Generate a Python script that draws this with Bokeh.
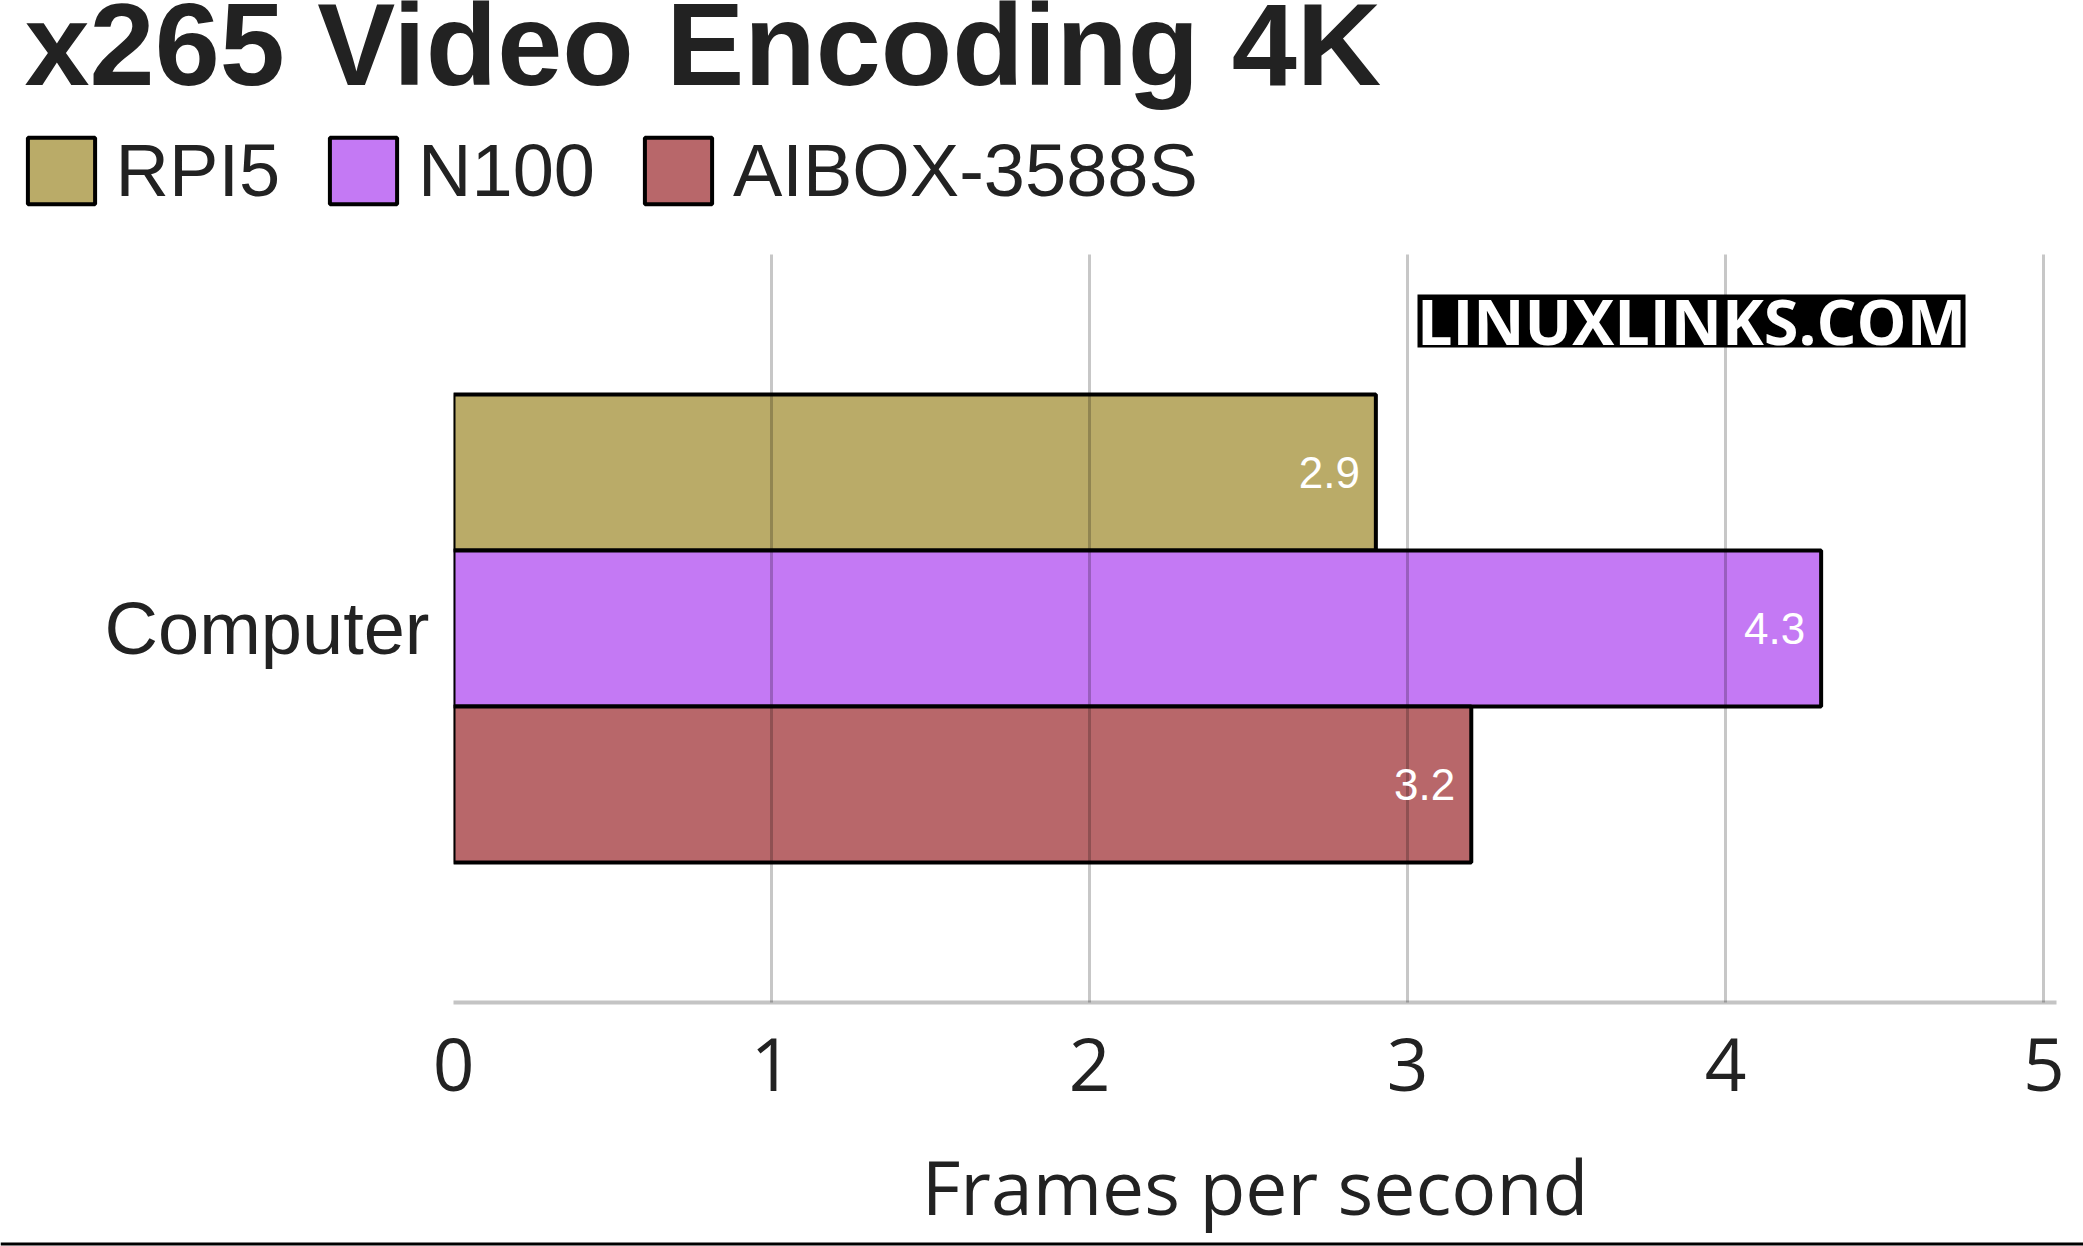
from bokeh.plotting import figure
from bokeh.layouts import column
from bokeh.models import (ColumnDataSource, FactorRange, Range1d, FixedTicker, Legend,
                          LegendItem, Label, LabelSet, BoxAnnotation)
from bokeh.transform import dodge
from bokeh.core.properties import value
from bokeh.embed import file_html
from bokeh.resources import INLINE

# ---- data ----
title = "x265 Video Encoding 4K"
category = ["Computer"]
devices = ["RPI5", "N100", "AIBOX-3588S"]
fps = [2.9, 4.3, 3.2]
colors = ["#BAAB68", "#C479F4", "#B8676A"]
x_ticks = [0, 1, 2, 3, 4, 5]
x_label = "Frames per second"
watermark = "LINUXLINKS.COM"

BAR_H = 0.2086
offsets = [BAR_H, 0.0, -BAR_H]
TXT = "#222222"
X_END = 5.04
W = 2083
HEAD_H = 254
FRAME_H = 748
BOTTOM_B = 136
FOOT_H = 1246 - HEAD_H - FRAME_H - BOTTOM_B


def no_align(fig):
    try:
        fig.frame_align = False
    except Exception:
        pass


sources = [ColumnDataSource(dict(cat=category, value=[v], label=[f"{v:.1f}"])) for v in fps]

# ---------------- header: title + legend ----------------
h = figure(width=W, height=HEAD_H, y_range=FactorRange(factors=category), x_range=Range1d(0, X_END),
           min_border=0, x_axis_location=None, y_axis_location=None,
           output_backend="svg", toolbar_location=None, outline_line_color=None)
no_align(h)
h.grid.visible = False
items = []
for dev, src, col, off in zip(devices, sources, colors, offsets):
    r = h.hbar(y=dodge("cat", off, range=h.y_range), right="value", left=0, height=BAR_H,
               source=src, fill_color=col, line_color="black", line_width=4, visible=False)
    items.append(LegendItem(label=dev, renderers=[r]))
legend = Legend(items=items, orientation="horizontal", location=(18.6, 41.3),
                glyph_width=84, glyph_height=83, label_standoff=13, spacing=41,
                padding=0, margin=0, border_line_color=None, background_fill_alpha=0,
                label_text_font="Liberation Sans", label_text_font_size="74px",
                label_text_color=TXT, label_height=83)
h.add_layout(legend)
h.add_layout(Label(x=24, y=210, x_units="screen", y_units="screen", text=title,
                   text_font="Liberation Sans", text_font_style="bold", text_font_size="117px",
                   text_color=TXT, text_baseline="alphabetic", text_align="left"))

# ---------------- main chart ----------------
p = figure(y_range=FactorRange(factors=category), x_range=Range1d(0, X_END),
           frame_width=1603, frame_height=FRAME_H,
           min_border_left=453, min_border_top=0, min_border_right=27, min_border_bottom=BOTTOM_B,
           output_backend="svg", toolbar_location=None, outline_line_color=None)

for src, col, off in zip(sources, colors, offsets):
    p.hbar(y=dodge("cat", off, range=p.y_range), right="value", left=0, height=BAR_H,
           source=src, fill_color=col, line_color="black", line_width=4)
    p.add_layout(LabelSet(x="value", y=dodge("cat", off, range=p.y_range), text="label",
                          source=src, x_offset=-16, text_align="right", text_baseline="middle",
                          text_color="white", text_font=value("Liberation Sans"),
                          text_font_size=value("44px")))

# grid
p.ygrid.visible = False
p.xgrid.ticker = FixedTicker(ticks=x_ticks)
p.xgrid.grid_line_color = "black"
p.xgrid.grid_line_alpha = 0.22
p.xgrid.grid_line_width = 3
p.xgrid.level = "guide"

# axes
p.xaxis.ticker = FixedTicker(ticks=x_ticks)
p.xaxis.axis_line_color = "#c4c4c4"
p.xaxis.axis_line_width = 4
p.xaxis.major_tick_line_color = None
p.xaxis.minor_tick_line_color = None
p.xaxis.major_label_text_font = "Open Sans"
p.xaxis.major_label_text_font_size = "73px"
p.xaxis.major_label_text_color = TXT
p.xaxis.major_label_standoff = 29

p.yaxis.axis_line_color = None
p.yaxis.major_tick_line_color = None
p.yaxis.minor_tick_line_color = None
p.yaxis.major_label_text_font = "Liberation Sans"
p.yaxis.major_label_text_font_size = "74px"
p.yaxis.major_label_text_color = TXT
p.yaxis.major_label_standoff = 18

# watermark
p.add_layout(BoxAnnotation(left=964, right=1512, bottom=655, top=708,
                           left_units="screen", right_units="screen",
                           top_units="screen", bottom_units="screen",
                           fill_color="black", fill_alpha=1, line_color=None))
p.add_layout(Label(x=1238, y=682, x_units="screen", y_units="screen", text=watermark,
                   text_font="Open Sans", text_font_style="bold", text_font_size="63px",
                   text_color="white", text_baseline="alphabetic", text_align="center"))

# ---------------- footer: x-axis title + rule ----------------
f = figure(width=W, height=FOOT_H, x_range=Range1d(0, 1), y_range=Range1d(0, 1),
           min_border=0, x_axis_location=None, y_axis_location=None,
           output_backend="svg", toolbar_location=None, outline_line_color=None)
no_align(f)
f.grid.visible = False
f.add_layout(Label(x=1254.5, y=61, x_units="screen", y_units="screen", text=x_label,
                   text_font="Open Sans", text_font_size="75px", text_color=TXT,
                   text_baseline="alphabetic", text_align="center"))
f.add_layout(BoxAnnotation(left=0, right=W, bottom=1, top=4,
                           left_units="screen", right_units="screen",
                           top_units="screen", bottom_units="screen",
                           fill_color="black", fill_alpha=1, line_color=None))

layout = column(h, p, f, spacing=0)
open("out.html", "w").write(file_html(layout, INLINE))
